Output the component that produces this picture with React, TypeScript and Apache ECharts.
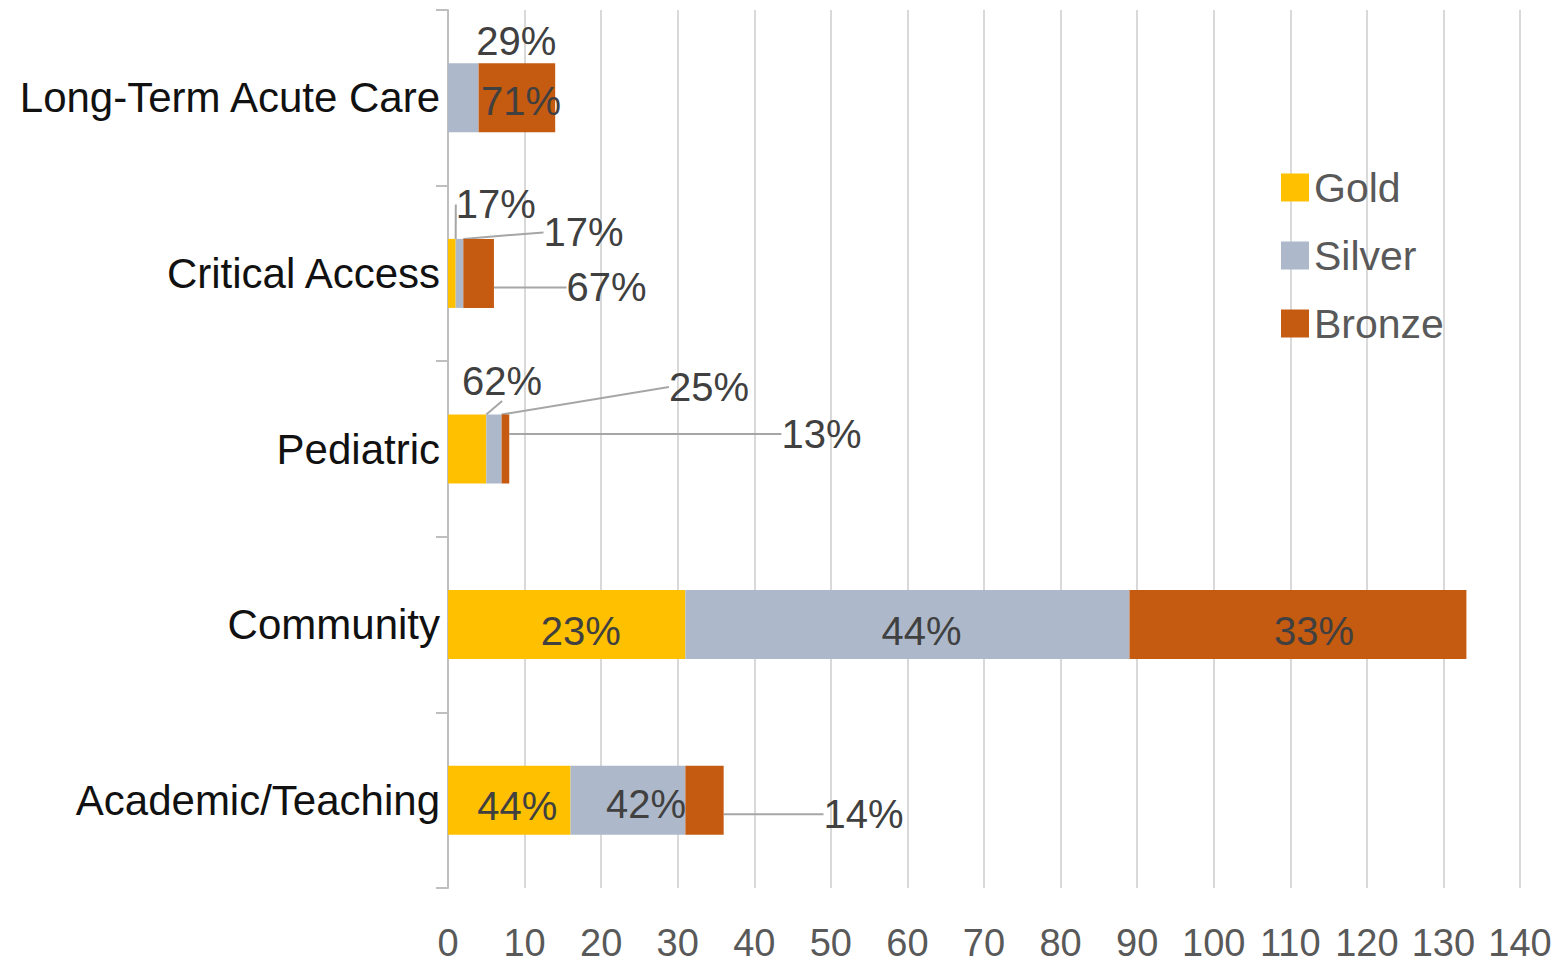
import React, { useEffect, useRef } from "react";
import * as echarts from "echarts";

const categories = ["Long-Term Acute Care", "Critical Access", "Pediatric", "Community", "Academic/Teaching"];
const seriesNames = ["Gold", "Silver", "Bronze"];
const gold = [0, 1, 5, 31, 16];
const silver = [4, 1, 2, 58, 15];
const bronze = [10, 4, 1, 44, 5];
// percentage labels as printed on the chart
const goldPct = [0, 17, 62, 23, 44];
const silverPct = [29, 17, 25, 44, 42];
const bronzePct = [71, 67, 13, 33, 14];
const xMin = 0;
const xMax = 140;
const xStep = 10;

const colors = ["#FFC000", "#ADB9CA", "#C55A11"];

// label offsets (style): [dx, dy, showLeaderLine] per series / data index
const labelOffsets: Record<number, Record<number, [number, number, boolean]>> = {
  0: { 1: [44, -69, true], 2: [35, -68, true], 3: [14, 6, false], 4: [8, 6, false] },
  1: { 0: [53, -57, false], 1: [124, -41, true], 2: [215, -62, true], 3: [14, 6, false], 4: [18, 4, false] },
  2: { 0: [4, 3, false], 1: [128, 14, true], 2: [316, -15, true], 3: [16, 6, false], 4: [159, 14, true] },
};

const FONT = "'Liberation Sans', Arial, sans-serif";

export default function App() {
  const ref = useRef<HTMLDivElement>(null);
  useEffect(() => {
    if (!ref.current) return;
    const chart = echarts.init(ref.current, null, { renderer: "svg" });
    const allSeries = [gold, silver, bronze];
    const allPct = [goldPct, silverPct, bronzePct];

    const series = allSeries.map((arr, si) => ({
      name: seriesNames[si],
      type: "bar",
      stack: "total",
      barWidth: 69,
      itemStyle: { color: colors[si] },
      label: {
        show: true,
        position: "inside",
        fontFamily: FONT,
        fontSize: 40,
        color: "#404040",
        formatter: (p: any) => {
          if (!p.value) return "";
          return allPct[si][p.dataIndex] + "%";
        },
      },
      labelLine: { show: false, lineStyle: { color: "#A6A6A6", width: 2 } },
      labelLayout: (params: any) => {
        const o = labelOffsets[params.seriesIndex]?.[params.dataIndex];
        if (!o) return {};
        return { dx: o[0], dy: o[1] };
      },
      data: arr.map((v, di) => {
        const o = labelOffsets[si]?.[di];
        return {
          value: v,
          labelLine: { show: !!(o && o[2]), lineStyle: { color: "#A6A6A6", width: 2 } },
        };
      }),
    }));

    chart.setOption({
      animation: false,
      textStyle: { fontFamily: FONT },
      grid: { left: 448, right: 35, top: 10, bottom: 78, containLabel: false },
      legend: {
        orient: "vertical",
        left: 1276,
        top: 162,
        icon: "rect",
        itemWidth: 28,
        itemHeight: 28,
        itemGap: 27,
        textStyle: { fontSize: 41, color: "#595959", fontFamily: FONT, lineHeight: 40 },
        data: seriesNames,
      },
      xAxis: {
        type: "value",
        min: xMin,
        max: xMax,
        interval: xStep,
        axisLine: { show: false },
        axisTick: { show: false },
        splitLine: { show: true, lineStyle: { color: "#D9D9D9", width: 2 } },
        axisLabel: { fontSize: 38, color: "#595959", margin: 36, fontFamily: FONT },
      },
      yAxis: {
        type: "category",
        inverse: true,
        data: categories,
        axisLine: { show: true, lineStyle: { color: "#BFBFBF", width: 2 } },
        axisTick: { show: true, length: 12, lineStyle: { color: "#BFBFBF", width: 2 } },
        axisLabel: { fontSize: 42, color: "#111111", margin: 8, fontFamily: FONT },
      },
      series,
    });
    return () => chart.dispose();
  }, []);
  return (
    <div
      ref={ref}
      style={{ position: "fixed", left: 0, top: 0, width: 1555, height: 966, background: "#fff" }}
    />
  );
}
